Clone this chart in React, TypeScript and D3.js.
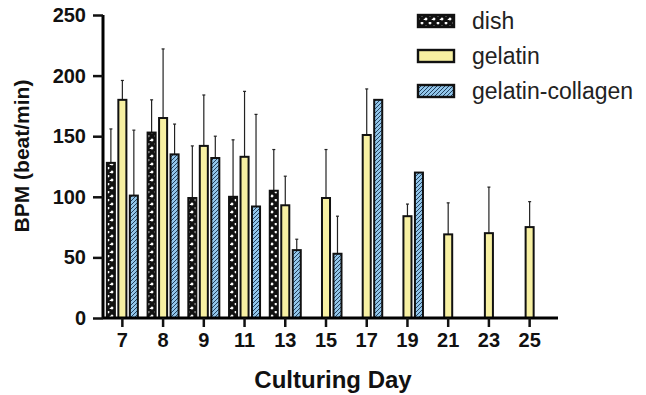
import React, { useEffect, useRef } from 'react';
import * as d3 from 'd3';

const days = ['7', '8', '9', '11', '13', '15', '17', '19', '21', '23', '25'];
const seriesNames = ['dish', 'gelatin', 'gelatin-collagen'];
const dishMean = [128, 153, 99, 100, 105, null, null, null, null, null, null];
const dishSD = [28, 27, 43, 47, 34, null, null, null, null, null, null];
const gelatinMean = [180, 165, 142, 133, 93, 99, 151, 84, 69, 70, 75];
const gelatinSD = [16, 57, 42, 54, 24, 40, 38, 10, 26, 38, 21];
const collagenMean = [101, 135, 132, 92, 56, 53, 180, 120, null, null, null];
const collagenSD = [54, 25, 18, 76, 9, 31, 0, 0, null, null, null];
const yTicks = [0, 50, 100, 150, 200, 250];

const App = () => {
    const ref = useRef<SVGSVGElement>(null);

    useEffect(() => {
        const svg = d3.select(ref.current);
        svg.selectAll('*').remove();

        const left = 103;
        const bottom = 318;
        const font = 'Liberation Sans, Arial, sans-serif';

        const defs = svg.append('defs');
        // crosshatch for dish
        const p1 = defs.append('pattern')
            .attr('id', 'dishPat')
            .attr('patternUnits', 'userSpaceOnUse')
            .attr('width', 8).attr('height', 8);
        p1.append('rect').attr('width', 8).attr('height', 8).attr('fill', '#fff');
        p1.append('path').attr('d', 'M0,0L8,8M8,0L0,8M-4,4L4,12M4,-4L12,4M4,-4L-4,4M12,4L4,12')
            .attr('stroke', '#111').attr('stroke-width', 3.1);
        // diagonal hatch for gelatin-collagen
        const p2 = defs.append('pattern')
            .attr('id', 'colPat')
            .attr('patternUnits', 'userSpaceOnUse')
            .attr('width', 4).attr('height', 4);
        p2.append('rect').attr('width', 4).attr('height', 4).attr('fill', '#92c6ea');
        p2.append('path').attr('d', 'M-1,1L1,-1M0,4L4,0M3,5L5,3')
            .attr('stroke', '#23405e').attr('stroke-width', 1);

        const fills = ['url(#dishPat)', '#f7f0a2', 'url(#colPat)'];

        const x = d3.scaleBand()
            .domain(days)
            .range([102, 550])
            .padding(0);

        const x1 = d3.scaleBand()
            .domain(seriesNames)
            .range([-15.5, 15.5])
            .paddingInner(0.3);

        const y = d3.scaleLinear()
            .domain([0, 250])
            .range([bottom, 15]);

        const means = [dishMean, gelatinMean, collagenMean];
        const sds = [dishSD, gelatinSD, collagenSD];

        const rows: { day: string; s: number; m: number; sd: number }[] = [];
        days.forEach((day, i) => {
            seriesNames.forEach((_, s) => {
                const m = means[s][i];
                if (m != null) rows.push({ day, s, m, sd: sds[s][i] ?? 0 });
            });
        });

        const bx = (d: { day: string; s: number }) =>
            (x(d.day) as number) + x.bandwidth() / 2 + (x1(seriesNames[d.s]) as number);
        const mid = (d: { day: string; s: number }) => bx(d) + x1.bandwidth() / 2;

        // error bars (upper only)
        const withErr = rows.filter(d => d.sd > 0);
        const eb = svg.append('g').attr('stroke', '#222').attr('stroke-width', 1.2);
        eb.selectAll('line.err')
            .data(withErr)
            .enter()
            .append('line')
            .attr('x1', mid)
            .attr('x2', mid)
            .attr('y1', d => y(d.m))
            .attr('y2', d => y(d.m + d.sd));
        eb.selectAll('line.cap')
            .data(withErr)
            .enter()
            .append('line')
            .attr('x1', d => mid(d) - 1.5)
            .attr('x2', d => mid(d) + 1.5)
            .attr('y1', d => y(d.m + d.sd))
            .attr('y2', d => y(d.m + d.sd));

        // bars
        svg.append('g')
            .selectAll('rect')
            .data(rows)
            .enter()
            .append('rect')
            .attr('x', bx)
            .attr('width', x1.bandwidth())
            .attr('y', d => y(d.m))
            .attr('height', d => bottom - y(d.m))
            .attr('fill', d => fills[d.s])
            .attr('stroke', '#111')
            .attr('stroke-width', 2);

        // y axis
        const ya = svg.append('g')
            .attr('transform', `translate(${left},0)`)
            .call(d3.axisLeft(y).tickValues(yTicks).tickSize(10).tickSizeOuter(0).tickPadding(7));
        ya.select('.domain').attr('stroke-width', 3).attr('d', `M0,${y(250)}V${bottom}`);
        ya.selectAll('.tick line').attr('stroke-width', 2.5).attr('stroke', '#111');
        ya.selectAll('.tick text')
            .attr('font-family', font)
            .attr('font-weight', 'bold')
            .attr('font-size', 20)
            .attr('fill', '#111');

        // x axis
        const xa = svg.append('g')
            .attr('transform', `translate(0,${bottom})`)
            .call(d3.axisBottom(x).tickSize(9).tickSizeOuter(0).tickPadding(6));
        xa.select('.domain').attr('stroke-width', 3).attr('d', `M${left},0H558`);
        xa.selectAll('.tick line').attr('stroke-width', 2.5).attr('stroke', '#111');
        xa.selectAll('.tick text')
            .attr('font-family', font)
            .attr('font-weight', 'bold')
            .attr('font-size', 20)
            .attr('fill', '#111');

        // axis titles
        svg.append('text')
            .attr('x', 333)
            .attr('y', 388)
            .attr('text-anchor', 'middle')
            .attr('font-family', font)
            .attr('font-weight', 'bold')
            .attr('font-size', 24)
            .attr('fill', '#111')
            .text('Culturing Day');

        svg.append('text')
            .attr('transform', 'translate(29,156) rotate(-90)')
            .attr('text-anchor', 'middle')
            .attr('font-family', font)
            .attr('font-weight', 'bold')
            .attr('font-size', 21)
            .attr('fill', '#111')
            .text('BPM (beat/min)');

        // legend
        const lg = svg.append('g').attr('transform', 'translate(418,15)');
        const item = lg.selectAll('g')
            .data(seriesNames)
            .enter()
            .append('g')
            .attr('transform', (_, i) => `translate(0,${i * 35})`);
        item.append('rect')
            .attr('width', 36)
            .attr('height', 12)
            .attr('fill', (_, i) => fills[i])
            .attr('stroke', '#111')
            .attr('stroke-width', 2.4);
        item.append('text')
            .attr('x', 54)
            .attr('y', 14)
            .attr('font-family', font)
            .attr('font-size', 23)
            .attr('fill', '#222')
            .text(d => d);
    }, []);

    return (
        <svg
            ref={ref}
            width={646}
            height={395}
            style={{ position: 'absolute', left: 0, top: 0, background: '#fff' }}
        />
    );
};

export default App;
